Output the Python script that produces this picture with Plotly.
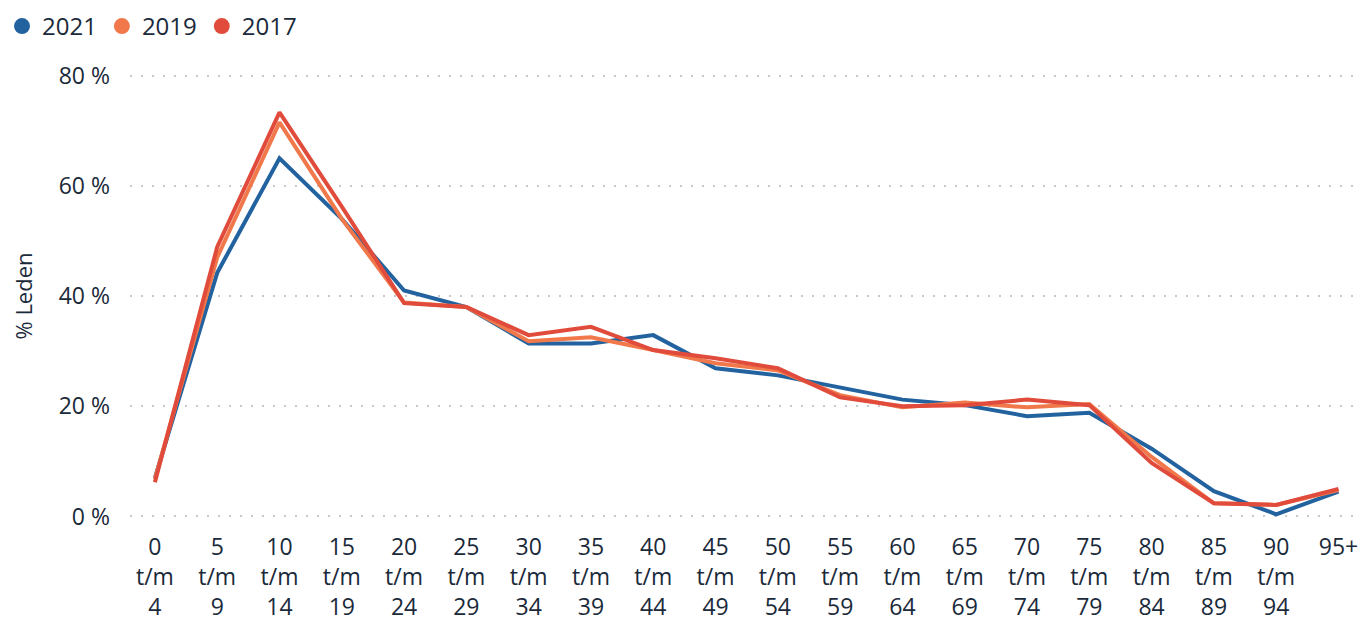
import plotly.graph_objects as go

categories = ["0<br>t/m<br>4", "5<br>t/m<br>9", "10<br>t/m<br>14", "15<br>t/m<br>19", "20<br>t/m<br>24",
              "25<br>t/m<br>29", "30<br>t/m<br>34", "35<br>t/m<br>39", "40<br>t/m<br>44", "45<br>t/m<br>49",
              "50<br>t/m<br>54", "55<br>t/m<br>59", "60<br>t/m<br>64", "65<br>t/m<br>69", "70<br>t/m<br>74",
              "75<br>t/m<br>79", "80<br>t/m<br>84", "85<br>t/m<br>89", "90<br>t/m<br>94", "95+"]

v2021 = [7.0, 44.2, 65.0, 54.0, 41.0, 38.0, 31.4, 31.4, 32.9, 26.9, 25.6, 23.4, 21.2, 20.2, 18.2, 18.8, 12.3, 4.6, 0.4, 4.5]
v2019 = [6.8, 47.0, 71.5, 54.0, 38.8, 38.0, 31.8, 32.5, 30.2, 27.8, 26.5, 22.0, 19.8, 20.7, 19.8, 20.4, 10.8, 2.4, 2.1, 4.8]
v2017 = [6.2, 48.9, 73.3, 56.2, 38.7, 38.0, 32.9, 34.4, 30.2, 28.7, 26.9, 21.6, 20.0, 20.2, 21.2, 20.2, 9.7, 2.4, 2.1, 5.0]

y_ticks = [0, 20, 40, 60, 80]
y_tick_labels = ["0 %", "20 %", "40 %", "60 %", "80 %"]

series = [("2021", v2021, "#22629f"), ("2019", v2019, "#f0784a"), ("2017", v2017, "#e04b3b")]

fig = go.Figure()
for name, vals, col in series:
    fig.add_trace(go.Scatter(x=categories, y=vals, mode="lines", name=name,
                             line=dict(color=col, width=4), showlegend=False, legendgroup=name))
for name, vals, col in series:
    fig.add_trace(go.Scatter(x=[None], y=[None], mode="markers", name=name, legendgroup=name,
                             marker=dict(color=col, size=17, symbol="circle")))

# page body has an 8px margin; figure is sized/offset to compensate
W, H = 1361, 618
L, R, T, B = 122, 0, 62, 104
PW, PH = W - L - R, H - T - B

fig.update_layout(
    width=W, height=H,
    margin=dict(l=L, r=R, t=T, b=B, autoexpand=False),
    paper_bgcolor="white", plot_bgcolor="white",
    font=dict(family="Open Sans, Segoe UI, sans-serif", color="#1b2a3a"),
    legend=dict(orientation="h", x=(-6 - L) / PW, xanchor="left", y=1 + (T + 4) / PH, yanchor="top",
                font=dict(size=24, color="#1b2a3a"), itemwidth=30, tracegroupgap=0,
                bgcolor="rgba(0,0,0,0)"),
    showlegend=True,
)
fig.update_xaxes(type="category", showgrid=False, showline=False, zeroline=False, automargin=False,
                 tickfont=dict(size=23, color="#1b2a3a"), ticks="", range=[-0.4, 19.49],
                 ticklabelstandoff=9)
fig.update_yaxes(range=[-1, 81], tickmode="array", tickvals=y_ticks, ticktext=y_tick_labels,
                 showgrid=True, gridcolor="#c8c8c8", griddash="2px,9px", gridwidth=2,
                 zeroline=False, showline=False, automargin=False,
                 tickfont=dict(size=23, color="#1b2a3a"), ticklabelstandoff=19,
                 title=dict(text="% Leden", font=dict(size=22, color="#1b2a3a"), standoff=24))

fig.write_html("out.html")
